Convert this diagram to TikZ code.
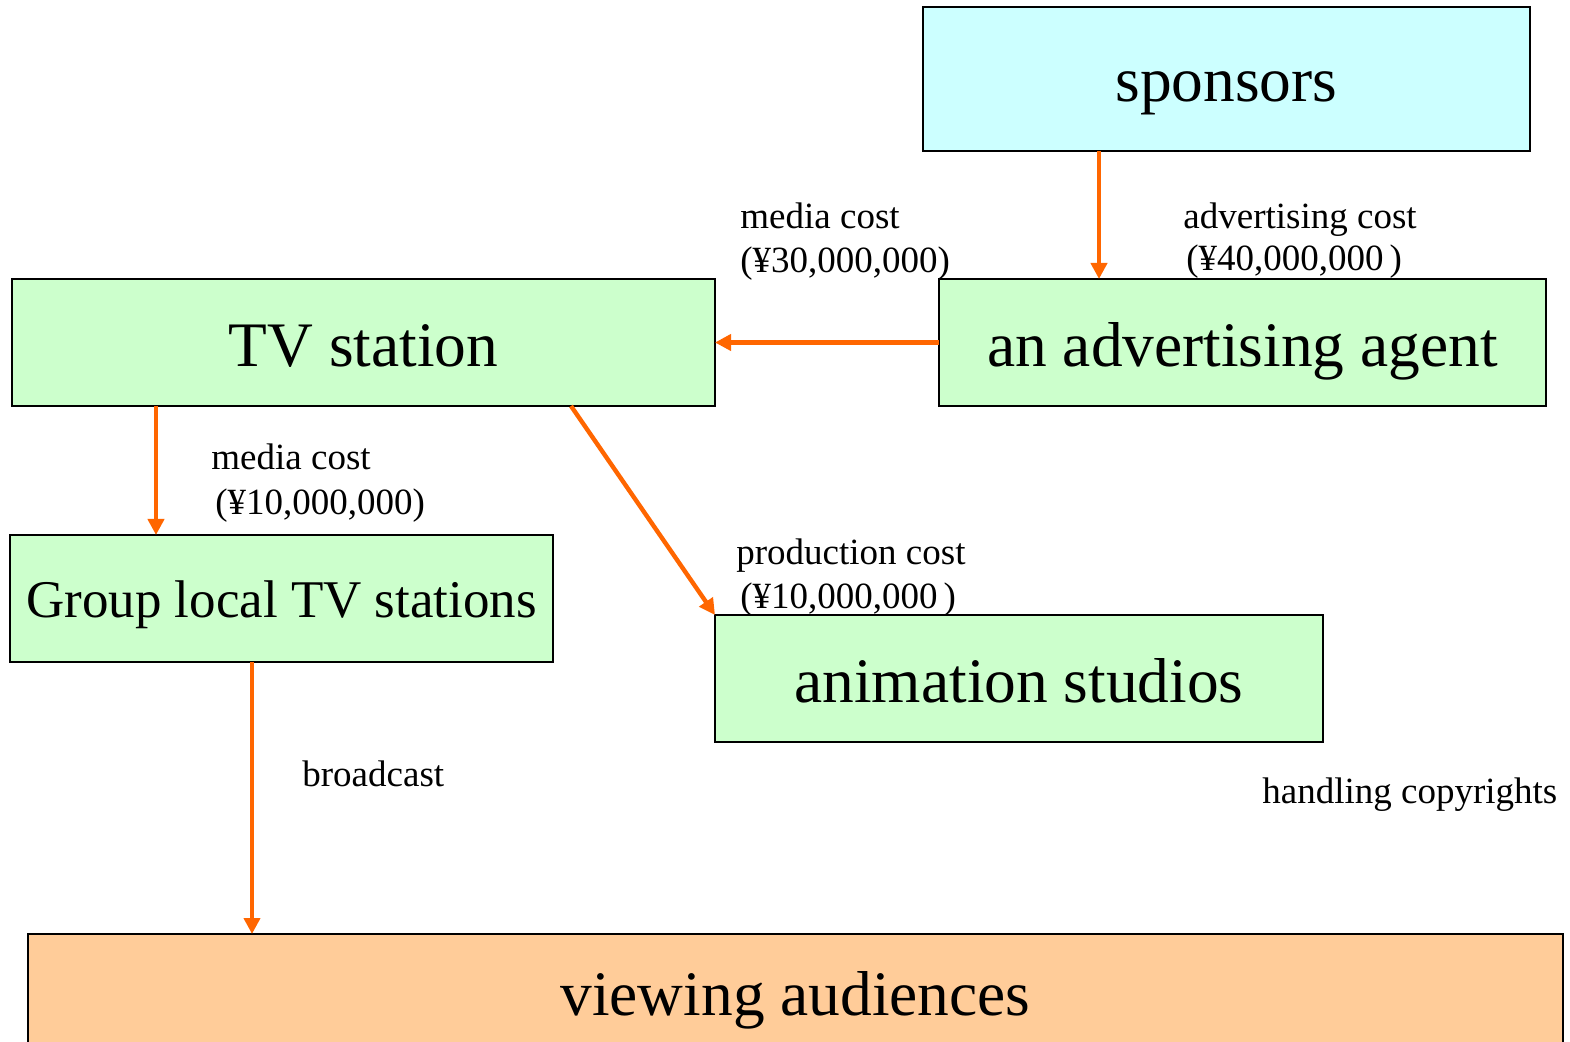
\documentclass[tikz,border=0pt]{standalone}
\usepackage{fontspec}
\setmainfont{Liberation Serif}
\usetikzlibrary{arrows.meta}
\definecolor{skyfill}{HTML}{CCFFFF}
\definecolor{greenfill}{HTML}{CCFFCC}
\definecolor{peachfill}{HTML}{FFCC99}
\definecolor{arrowc}{HTML}{FF6600}
\tikzset{
  box/.style={draw=black, line width=1pt, rectangle, inner sep=0pt, outer sep=0pt,
    text depth=0pt, font=\fontsize{31.7pt}{38pt}\selectfont},
  arr/.style={draw=arrowc, line width=2.2pt, -{Triangle[width=8pt,length=8pt]}},
  lbl/.style={anchor=base west, inner sep=0pt, font=\fontsize{18.5pt}{22pt}\selectfont}
}
\begin{document}
\begin{tikzpicture}[x=0.5pt,y=-0.5pt]
\useasboundingbox (0,0) rectangle (1570,1042);
\clip (0,0) rectangle (1570,1042);
\fill[white] (0,0) rectangle (1570,1042);
% boxes
\node[box, fill=skyfill, minimum width=303.5pt, minimum height=72pt, text height=23pt] (sponsors) at (1226.5,79) {sponsors};
\node[box, fill=greenfill, minimum width=303.5pt, minimum height=63.5pt, text height=24.5pt] (agent) at (1242.5,342.5) {an advertising agent};
\node[box, fill=greenfill, minimum width=351.5pt, minimum height=63.5pt, text height=24.5pt] (tv) at (363.5,342.5) {TV station};
\node[box, fill=greenfill, minimum width=271.5pt, minimum height=63.5pt, text height=19.5pt, font=\fontsize{26.5pt}{32pt}\selectfont] (group) at (281.5,598.5) {Group local TV stations};
\node[box, fill=greenfill, minimum width=304pt, minimum height=63.5pt, text height=24.5pt] (anim) at (1019,678.5) {animation studios};
\node[box, fill=peachfill, minimum width=767.5pt, minimum height=63.5pt, text height=17.5pt] (view) at (795.5,997.5) {viewing audiences};
% helper coordinates
\coordinate (sx) at (1099,0);
\coordinate (gx) at (156,0);
\coordinate (vx) at (252,0);
\coordinate (tvp) at (571,406);
% connectors
\draw[arr] (sponsors.south -| sx) -- (agent.north -| sx);
\draw[arr] (agent.west) -- (tv.east);
\draw[arr] (tv.south -| gx) -- (group.north -| gx);
\draw[arr] (tvp) -- (anim.north west);
\draw[arr] (group.south -| vx) -- (view.north -| vx);
% labels
\node[lbl] (l1a) at (740,229) {media cost};
\node[lbl] (l1b) at (740,273) {(¥30,000,000)};
\node[lbl] (l2a) at (1183,229) {advertising cost};
\node[lbl] (l2b) at (1186,271) {(¥40,000,000\kern3pt)};
\node[lbl] (l3a) at (211,470) {media cost};
\node[lbl] (l3b) at (215,515) {(¥10,000,000)};
\node[lbl] (l4a) at (736,565) {production cost};
\node[lbl] (l4b) at (740,609) {(¥10,000,000\kern3pt)};
\node[lbl] (l5) at (302,787) {broadcast};
\node[lbl] (l6) at (1262,804) {handling copyrights};
\end{tikzpicture}
\end{document}
